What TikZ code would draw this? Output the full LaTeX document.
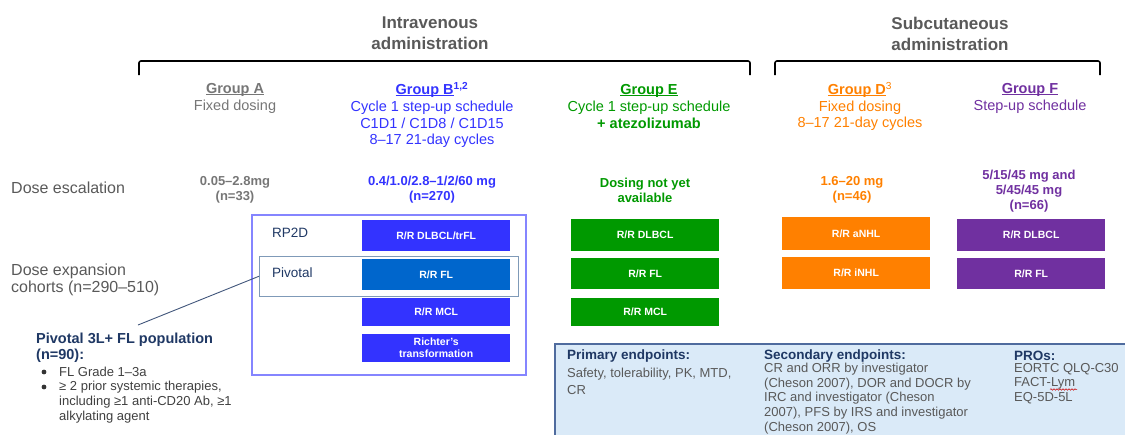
\documentclass[tikz,border=0pt]{standalone}
\usepackage{fontspec}
\setmainfont{Liberation Sans}
\usepackage{xcolor}
\usetikzlibrary{decorations.pathmorphing}

\definecolor{routegray}{HTML}{595959}
\definecolor{groupgray}{HTML}{767676}
\definecolor{ivblue}{HTML}{3333FF}
\definecolor{ivframe}{HTML}{8585FF}
\definecolor{flblue}{HTML}{0066CC}
\definecolor{framegray}{HTML}{7F9AB8}
\definecolor{combgreen}{HTML}{009900}
\definecolor{scorange}{HTML}{FF8000}
\definecolor{scpurple}{HTML}{7030A0}
\definecolor{navy}{HTML}{1F3864}
\definecolor{bodygray}{HTML}{404040}
\definecolor{endfill}{HTML}{DAEAF8}
\definecolor{endline}{HTML}{4F6B9E}

% group names: thin rule just under the baseline
\newcommand{\grpline}[1]{\setbox0\hbox{#1}\rlap{\rule[-1.7pt]{\wd0}{1.1pt}}\box0}

\begin{document}
\begin{tikzpicture}[x=1pt, y=-1pt,
  route/.style={font=\fontsize{17}{20.5}\selectfont\bfseries, text=routegray, align=center},
  grouphead/.style={font=\fontsize{14.5}{16.8}\selectfont, align=center},
  dosing/.style={font=\fontsize{13}{15}\selectfont\bfseries, align=center},
  rowlabel/.style={font=\fontsize{16}{17.5}\selectfont, text=routegray, align=left, anchor=west, inner xsep=0pt},
  armlabel/.style={font=\fontsize{13.5}{16}\selectfont, text=navy, anchor=west, inner xsep=0pt},
  cohort/.style={anchor=north west, minimum width=148, minimum height=31, inner sep=0pt,
    text=white, font=\fontsize{10.5}{12.5}\selectfont\bfseries, align=center},
  bracket/.style={line width=1.6pt, rounded corners=2pt},
  criterion/.style={font=\fontsize{13}{15}\selectfont, text=bodygray, align=left, anchor=west, inner xsep=0pt},
  endhead/.style={font=\fontsize{13.5}{15}\selectfont\bfseries, text=navy, anchor=west, inner xsep=0pt},
  endbody/.style={font=\fontsize{13}{14.7}\selectfont, text=routegray, align=left, anchor=west, inner xsep=0pt}]
\useasboundingbox (0,0) rectangle (1125,434);
\clip (0,0) rectangle (1125,434);

%%%%% Route of administration %%%%%
\node[route] (ivroute) at (430,33) {Intravenous\\administration};
\node[route] (scroute) at (950,34) {Subcutaneous\\administration};
\foreach \l/\r in {139/750, 775/1100}{
\draw[bracket] (\l,75) |- (\r,61) -- (\r,75);
}

%%%%% Groups %%%%%
\node[grouphead, text=groupgray] (grpA) at (235,98.5) {\textbf{\grpline{Group A}}\\Fixed dosing};
\node[grouphead, text=ivblue] (grpB) at (432,115) {\textbf{\grpline{Group B}\textsuperscript{1,2}}\\Cycle 1 step-up schedule\\C1D1 / C1D8 / C1D15\\8–17 21-day cycles};
\node[grouphead, text=combgreen] (grpE) at (649,106.5) {\textbf{\grpline{Group E}}\\Cycle 1 step-up schedule\\\textbf{+ atezolizumab}};
\node[grouphead, text=scorange] (grpD) at (860,106.5) {\textbf{\grpline{Group D}}\textsuperscript{3}\\Fixed dosing\\8–17 21-day cycles};
\node[grouphead, text=scpurple] (grpF) at (1030,98.5) {\textbf{\grpline{Group F}}\\Step-up schedule};

%%%%% Dose escalation %%%%%
\node[rowlabel] (escal) at (11,188) {Dose escalation};
\node[dosing, text=groupgray] (doseA) at (235,189.5) {0.05–2.8mg\\(n=33)};
\node[dosing, text=ivblue] (doseB) at (432,189.5) {0.4/1.0/2.8–1/2/60 mg\\(n=270)};
\node[dosing, text=combgreen] (doseE) at (645,190.5) {Dosing not yet\\available};
\node[dosing, text=scorange] (doseD) at (852,190) {1.6–20 mg\\(n=46)};
\node[dosing, text=scpurple] (doseF) at (1029,191.5) {5/15/45 mg and\\5/45/45 mg\\(n=66)};

%%%%% Dose expansion %%%%%
\node[rowlabel] (expan) at (11,280) {Dose expansion\\cohorts (n=290–510)};
\draw[ivframe, line width=1.5pt] (252,215) rectangle (526,375);
\node[anchor=north west, draw=framegray, line width=1pt, minimum width=259, minimum height=39.5] (pivframe) at (259,256) {};
\node[armlabel] (rptwod) at (272,233) {RP2D};
\node[armlabel] (pivarm) at (272,273) {Pivotal};

% group B cohorts
\node[cohort, fill=ivblue, minimum height=31.5] (bdlbcl) at (362,219.5) {R/R DLBCL/trFL};
\node[cohort, fill=flblue, minimum height=31.5] (bfl) at (362,258.5) {R/R FL};
\node[cohort, fill=ivblue, minimum height=28] (bmcl) at (362,298) {R/R MCL};
\node[cohort, fill=ivblue, minimum height=28.5] (brichter) at (362,333.3) {Richter's\\transformation};
% group E cohorts
\node[cohort, fill=combgreen, minimum height=32] (edlbcl) at (571,219) {R/R DLBCL};
\node[cohort, fill=combgreen] (efl) at (571,258) {R/R FL};
\node[cohort, fill=combgreen, minimum height=28] (emcl) at (571,298) {R/R MCL};
% group D cohorts
\node[cohort, fill=scorange, minimum height=33] (danhl) at (782,217) {R/R aNHL};
\node[cohort, fill=scorange, minimum height=32] (dinhl) at (782,257) {R/R iNHL};
% group F cohorts
\node[cohort, fill=scpurple, minimum height=32] (fdlbcl) at (957,219) {R/R DLBCL};
\node[cohort, fill=scpurple] (ffl) at (957,258) {R/R FL};

%%%%% Pivotal population %%%%%
\coordinate (popin) at (138,325);
\draw[navy!85, line width=0.9pt] (pivframe.west) -- (popin);
\node[anchor=west, inner xsep=0pt, font=\fontsize{14.5}{16}\selectfont\bfseries, text=navy, align=left] (poptitle) at (36,348) {Pivotal 3L+ FL population\\(n=90):};
\foreach \by in {372,387}{
\fill[bodygray!80!black] (44,\by) circle (2.4);
}
\node[criterion] (critgrade) at (59,372) {FL Grade 1–3a};
\node[criterion] (critprior) at (59,402) {≥ 2 prior systemic therapies,\\including ≥1 anti-CD20 Ab, ≥1\\alkylating agent};

%%%%% Endpoints %%%%%
\fill[endfill] (555,344) rectangle (1140,445);
\draw[endline, line width=1.3pt] (1140,344) -- (555,344) -- (555,445);
\node[endhead] (primhead) at (567,356.5) {Primary endpoints:};
\node[endbody, font=\fontsize{13}{17}\selectfont] (primbody) at (567,381.5) {Safety, tolerability, PK, MTD,\\CR};
\node[endhead] (sechead) at (764,356) {Secondary endpoints:};
\node[endbody] (secbody) at (764,398.5) {CR and ORR by investigator\\(Cheson 2007), DOR and DOCR by\\IRC and investigator (Cheson\\2007), PFS by IRS and investigator\\(Cheson 2007), OS};
\node[endhead] (prohead) at (1014,356) {PROs:};
\node[endbody] (probody) at (1014,383.5) {EORTC QLQ-C30\\FACT-Lym\\EQ-5D-5L};
\draw[red!80!black, line width=0.5pt, decorate, decoration={snake, amplitude=0.8pt, segment length=3pt}] (1050,389.5) -- (1077,389.5);
\end{tikzpicture}
\end{document}
